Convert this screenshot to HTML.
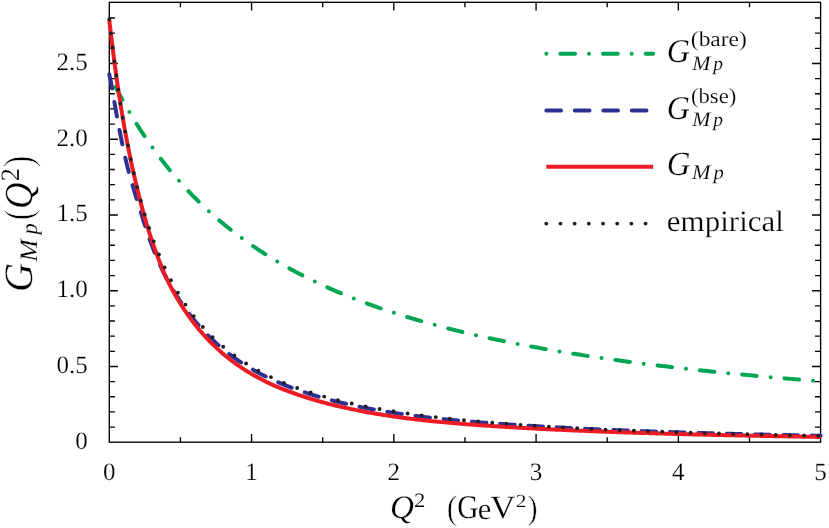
<!DOCTYPE html>
<html><head><meta charset="utf-8"><title>G_Mp</title>
<style>
html,body{margin:0;padding:0;background:#fff;}
svg{display:block;font-family:"Liberation Serif",serif;fill:#000;text-rendering:geometricPrecision;}
svg{will-change:transform;}
.it{font-style:italic;}
</style></head><body>
<svg width="829" height="528" viewBox="0 0 829 528">
<rect width="829" height="528" fill="#fff"/>
<g stroke="#000" stroke-width="1.35" fill="none" stroke-linecap="butt">
<rect x="109.3" y="2.3" width="711.30" height="439.90"/>
<path d="M180.43,442.2v-5.0 M180.43,2.3v5.0 M251.56,442.2v-8.2 M251.56,2.3v8.2 M322.69,442.2v-5.0 M322.69,2.3v5.0 M393.82,442.2v-8.2 M393.82,2.3v8.2 M464.95,442.2v-5.0 M464.95,2.3v5.0 M536.08,442.2v-8.2 M536.08,2.3v8.2 M607.21,442.2v-5.0 M607.21,2.3v5.0 M678.34,442.2v-8.2 M678.34,2.3v8.2 M749.47,442.2v-5.0 M749.47,2.3v5.0 M109.3,427.05h5.6 M820.6,427.05h-5.6 M109.3,411.90h5.6 M820.6,411.90h-5.6 M109.3,396.75h5.6 M820.6,396.75h-5.6 M109.3,381.60h5.6 M820.6,381.60h-5.6 M109.3,366.45h8.6 M820.6,366.45h-8.6 M109.3,351.30h5.6 M820.6,351.30h-5.6 M109.3,336.15h5.6 M820.6,336.15h-5.6 M109.3,321.00h5.6 M820.6,321.00h-5.6 M109.3,305.85h5.6 M820.6,305.85h-5.6 M109.3,290.70h8.6 M820.6,290.70h-8.6 M109.3,275.55h5.6 M820.6,275.55h-5.6 M109.3,260.40h5.6 M820.6,260.40h-5.6 M109.3,245.25h5.6 M820.6,245.25h-5.6 M109.3,230.10h5.6 M820.6,230.10h-5.6 M109.3,214.95h8.6 M820.6,214.95h-8.6 M109.3,199.80h5.6 M820.6,199.80h-5.6 M109.3,184.65h5.6 M820.6,184.65h-5.6 M109.3,169.50h5.6 M820.6,169.50h-5.6 M109.3,154.35h5.6 M820.6,154.35h-5.6 M109.3,139.20h8.6 M820.6,139.20h-8.6 M109.3,124.05h5.6 M820.6,124.05h-5.6 M109.3,108.90h5.6 M820.6,108.90h-5.6 M109.3,93.75h5.6 M820.6,93.75h-5.6 M109.3,78.60h5.6 M820.6,78.60h-5.6 M109.3,63.45h8.6 M820.6,63.45h-8.6 M109.3,48.30h5.6 M820.6,48.30h-5.6 M109.3,33.15h5.6 M820.6,33.15h-5.6 M109.3,18.00h5.6 M820.6,18.00h-5.6"/>
</g>
<g fill="none" stroke-linecap="round" stroke-linejoin="round">
<path d="M109.30,74.63 L109.30,74.63 L109.31,74.64 L109.31,74.65 L109.32,74.67 L109.34,74.70 L109.35,74.73 L109.37,74.77 L109.39,74.82 L109.42,74.87 L109.45,74.92 L109.48,74.99 L109.51,75.05 L109.55,75.13 L109.59,75.21 L109.63,75.29 L109.67,75.39 L109.72,75.48 L109.77,75.59 L109.83,75.70 L109.88,75.81 L109.94,75.93 L110.00,76.06 L110.07,76.19 L110.14,76.33 L110.21,76.48 L110.28,76.63 L110.36,76.78 L110.44,76.95 L110.52,77.11 L110.61,77.29 L110.70,77.47 L110.79,77.65 L110.89,77.84 L110.98,78.04 L111.08,78.24 L111.19,78.45 L111.29,78.66 L111.40,78.88 L111.51,79.10 L111.63,79.33 L111.75,79.57 L111.87,79.81 L111.99,80.06 L112.12,80.31 L112.25,80.57 L112.38,80.83 L112.52,81.10 L112.65,81.37 L112.80,81.65 L112.94,81.94 L113.09,82.23 L113.24,82.52 L113.39,82.82 L113.55,83.13 L113.70,83.44 L113.87,83.76 L114.03,84.08 L114.20,84.41 L114.37,84.74 L114.54,85.07 L114.72,85.42 L114.90,85.76 L115.08,86.12 L115.26,86.47 L115.45,86.84 L115.64,87.20 L115.84,87.58 L116.03,87.95 L116.23,88.34 L116.43,88.72 L116.64,89.11 L116.85,89.51 L117.06,89.91 L117.27,90.32 L117.49,90.73 L117.71,91.14 L117.93,91.56 L118.16,91.99 L118.39,92.42 L118.62,92.85 L118.85,93.29 L119.09,93.73 L119.33,94.18 L119.57,94.63 L119.82,95.09 L120.07,95.55 L120.32,96.01 L120.57,96.48 L120.83,96.95 L121.09,97.43 L121.36,97.91 L121.62,98.40 L121.89,98.89 L122.16,99.38 L122.44,99.88 L122.72,100.38 L123.00,100.89 L123.28,101.40 L123.57,101.91 L123.86,102.43 L124.15,102.95 L124.45,103.47 L124.74,104.00 L125.05,104.53 L125.35,105.07 L125.66,105.61 L125.97,106.15 L126.28,106.70 L126.60,107.25 L126.92,107.81 L127.24,108.36 L127.56,108.92 L127.89,109.49 L128.22,110.06 L128.55,110.63 L128.89,111.20 L129.23,111.78 L129.57,112.36 L129.92,112.94 L130.26,113.53 L130.61,114.12 L130.97,114.71 L131.32,115.31 L131.68,115.91 L132.05,116.51 L132.41,117.11 L132.78,117.72 L133.15,118.33 L133.53,118.94 L133.90,119.56 L134.28,120.18 L134.67,120.80 L135.05,121.42 L135.44,122.05 L135.83,122.68 L136.23,123.31 L136.62,123.94 L137.02,124.58 L137.43,125.22 L137.83,125.86 L138.24,126.50 L138.65,127.15 L139.07,127.80 L139.49,128.45 L139.91,129.10 L140.33,129.75 L140.76,130.41 L141.19,131.07 L141.62,131.73 L142.06,132.39 L142.49,133.06 L142.93,133.72 L143.38,134.39 L143.83,135.06 L144.28,135.73 L144.73,136.41 L145.18,137.08 L145.64,137.76 L146.10,138.44 L146.57,139.12 L147.04,139.80 L147.51,140.49 L147.98,141.17 L148.45,141.86 L148.93,142.55 L149.42,143.24 L149.90,143.93 L150.39,144.62 L150.88,145.32 L151.37,146.01 L151.87,146.71 L152.37,147.40 L152.87,148.10 L153.38,148.80 L153.88,149.50 L154.39,150.21 L154.91,150.91 L155.43,151.61 L155.94,152.32 L156.47,153.02 L156.99,153.73 L157.52,154.44 L158.05,155.15 L158.59,155.86 L159.12,156.57 L159.66,157.28 L160.21,157.99 L160.75,158.70 L161.30,159.42 L161.85,160.13 L162.41,160.85 L162.97,161.56 L163.53,162.28 L164.09,162.99 L164.66,163.71 L165.23,164.43 L165.80,165.15 L166.37,165.86 L166.95,166.58 L167.53,167.30 L168.12,168.02 L168.70,168.74 L169.29,169.46 L169.88,170.18 L170.48,170.90 L171.08,171.62 L171.68,172.34 L172.28,173.06 L172.89,173.78 L173.50,174.50 L174.11,175.22 L174.73,175.95 L175.35,176.67 L175.97,177.39 L176.59,178.11 L177.22,178.83 L177.85,179.55 L178.48,180.27 L179.12,180.99 L179.76,181.71 L180.40,182.43 L181.05,183.15 L181.69,183.87 L182.35,184.59 L183.00,185.31 L183.66,186.03 L184.32,186.75 L184.98,187.46 L185.64,188.18 L186.31,188.90 L186.98,189.62 L187.66,190.33 L188.33,191.05 L189.01,191.76 L189.70,192.48 L190.38,193.19 L191.07,193.91 L191.76,194.62 L192.46,195.33 L193.15,196.05 L193.85,196.76 L194.56,197.47 L195.26,198.18 L195.97,198.89 L196.68,199.60 L197.40,200.30 L198.12,201.01 L198.84,201.72 L199.56,202.42 L200.29,203.13 L201.02,203.83 L201.75,204.54 L202.48,205.24 L203.22,205.94 L203.96,206.64 L204.71,207.34 L205.45,208.04 L206.20,208.74 L206.96,209.44 L207.71,210.13 L208.47,210.83 L209.23,211.52 L210.00,212.22 L210.76,212.91 L211.53,213.60 L212.31,214.29 L213.08,214.98 L213.86,215.67 L214.64,216.35 L215.43,217.04 L216.21,217.72 L217.01,218.41 L217.80,219.09 L218.59,219.77 L219.39,220.45 L220.20,221.13 L221.00,221.81 L221.81,222.49 L222.62,223.16 L223.43,223.84 L224.25,224.51 L225.07,225.18 L225.89,225.85 L226.72,226.52 L227.55,227.19 L228.38,227.85 L229.21,228.52 L230.05,229.18 L230.89,229.85 L231.73,230.51 L232.58,231.17 L233.43,231.83 L234.28,232.48 L235.13,233.14 L235.99,233.79 L236.85,234.45 L237.71,235.10 L238.58,235.75 L239.45,236.40 L240.32,237.05 L241.20,237.69 L242.07,238.34 L242.95,238.98 L243.84,239.62 L244.72,240.26 L245.61,240.90 L246.51,241.54 L247.40,242.17 L248.30,242.81 L249.20,243.44 L250.11,244.07 L251.01,244.70 L251.92,245.33 L252.83,245.96 L253.75,246.58 L254.67,247.20 L255.59,247.83 L256.52,248.45 L257.44,249.07 L258.37,249.68 L259.31,250.30 L260.24,250.91 L261.18,251.53 L262.12,252.14 L263.07,252.75 L264.02,253.36 L264.97,253.96 L265.92,254.57 L266.88,255.17 L267.84,255.77 L268.80,256.37 L269.76,256.97 L270.73,257.57 L271.70,258.16 L272.68,258.76 L273.65,259.35 L274.63,259.94 L275.62,260.53 L276.60,261.12 L277.59,261.70 L278.58,262.28 L279.57,262.87 L280.57,263.45 L281.57,264.03 L282.58,264.60 L283.58,265.18 L284.59,265.75 L285.60,266.32 L286.62,266.90 L287.63,267.46 L288.65,268.03 L289.68,268.60 L290.70,269.16 L291.73,269.72 L292.77,270.28 L293.80,270.84 L294.84,271.40 L295.88,271.96 L296.92,272.51 L297.97,273.06 L299.02,273.61 L300.07,274.16 L301.13,274.71 L302.19,275.25 L303.25,275.80 L304.31,276.34 L305.38,276.88 L306.45,277.42 L307.52,277.96 L308.60,278.49 L309.68,279.03 L310.76,279.56 L311.84,280.09 L312.93,280.62 L314.02,281.14 L315.11,281.67 L316.21,282.19 L317.31,282.72 L318.41,283.24 L319.52,283.75 L320.62,284.27 L321.73,284.79 L322.85,285.30 L323.96,285.81 L325.08,286.32 L326.21,286.83 L327.33,287.34 L328.46,287.84 L329.59,288.35 L330.73,288.85 L331.86,289.35 L333.00,289.85 L334.15,290.35 L335.29,290.84 L336.44,291.34 L337.59,291.83 L338.75,292.32 L339.90,292.81 L341.06,293.29 L342.23,293.78 L343.39,294.26 L344.56,294.75 L345.73,295.23 L346.91,295.70 L348.09,296.18 L349.27,296.66 L350.45,297.13 L351.64,297.60 L352.83,298.07 L354.02,298.54 L355.21,299.01 L356.41,299.48 L357.61,299.94 L358.82,300.40 L360.02,300.87 L361.23,301.32 L362.45,301.78 L363.66,302.24 L364.88,302.69 L366.10,303.15 L367.33,303.60 L368.55,304.05 L369.78,304.50 L371.02,304.94 L372.25,305.39 L373.49,305.83 L374.73,306.27 L375.98,306.71 L377.22,307.15 L378.48,307.59 L379.73,308.02 L380.99,308.46 L382.24,308.89 L383.51,309.32 L384.77,309.75 L386.04,310.18 L387.31,310.61 L388.58,311.03 L389.86,311.45 L391.14,311.88 L392.42,312.30 L393.71,312.71 L395.00,313.13 L396.29,313.55 L397.58,313.96 L398.88,314.37 L400.18,314.78 L401.48,315.19 L402.79,315.60 L404.10,316.01 L405.41,316.41 L406.72,316.82 L408.04,317.22 L409.36,317.62 L410.68,318.02 L412.01,318.42 L413.34,318.81 L414.67,319.21 L416.01,319.60 L417.34,319.99 L418.69,320.38 L420.03,320.77 L421.38,321.16 L422.73,321.54 L424.08,321.93 L425.43,322.31 L426.79,322.69 L428.15,323.07 L429.52,323.45 L430.88,323.83 L432.25,324.21 L433.63,324.58 L435.00,324.95 L436.38,325.32 L437.76,325.69 L439.15,326.06 L440.53,326.43 L441.92,326.80 L443.32,327.16 L444.71,327.53 L446.11,327.89 L447.51,328.25 L448.92,328.61 L450.33,328.96 L451.74,329.32 L453.15,329.68 L454.57,330.03 L455.99,330.38 L457.41,330.73 L458.83,331.08 L460.26,331.43 L461.69,331.78 L463.13,332.12 L464.56,332.47 L466.00,332.81 L467.45,333.15 L468.89,333.49 L470.34,333.83 L471.79,334.17 L473.25,334.51 L474.70,334.84 L476.16,335.18 L477.63,335.51 L479.09,335.84 L480.56,336.17 L482.03,336.50 L483.51,336.83 L484.99,337.15 L486.47,337.48 L487.95,337.80 L489.44,338.13 L490.93,338.45 L492.42,338.77 L493.91,339.09 L495.41,339.40 L496.91,339.72 L498.42,340.04 L499.92,340.35 L501.43,340.66 L502.95,340.97 L504.46,341.29 L505.98,341.59 L507.50,341.90 L509.02,342.21 L510.55,342.51 L512.08,342.82 L513.61,343.12 L515.15,343.42 L516.69,343.73 L518.23,344.03 L519.78,344.32 L521.32,344.62 L522.87,344.92 L524.43,345.21 L525.98,345.51 L527.54,345.80 L529.10,346.09 L530.67,346.38 L532.24,346.67 L533.81,346.96 L535.38,347.25 L536.96,347.53 L538.54,347.82 L540.12,348.10 L541.71,348.39 L543.29,348.67 L544.89,348.95 L546.48,349.23 L548.08,349.51 L549.68,349.78 L551.28,350.06 L552.88,350.33 L554.49,350.61 L556.10,350.88 L557.72,351.15 L559.34,351.42 L560.96,351.69 L562.58,351.96 L564.21,352.23 L565.84,352.50 L567.47,352.76 L569.10,353.03 L570.74,353.29 L572.38,353.56 L574.02,353.82 L575.67,354.08 L577.32,354.34 L578.97,354.60 L580.63,354.85 L582.29,355.11 L583.95,355.37 L585.61,355.62 L587.28,355.87 L588.95,356.13 L590.62,356.38 L592.30,356.63 L593.97,356.88 L595.66,357.13 L597.34,357.38 L599.03,357.62 L600.72,357.87 L602.41,358.11 L604.11,358.36 L605.81,358.60 L607.51,358.84 L609.21,359.09 L610.92,359.33 L612.63,359.57 L614.34,359.80 L616.06,360.04 L617.78,360.28 L619.50,360.51 L621.23,360.75 L622.95,360.98 L624.69,361.22 L626.42,361.45 L628.16,361.68 L629.90,361.91 L631.64,362.14 L633.38,362.37 L635.13,362.60 L636.88,362.82 L638.64,363.05 L640.40,363.28 L642.16,363.50 L643.92,363.72 L645.68,363.95 L647.45,364.17 L649.22,364.39 L651.00,364.61 L652.78,364.83 L654.56,365.05 L656.34,365.27 L658.13,365.48 L659.92,365.70 L661.71,365.92 L663.50,366.13 L665.30,366.34 L667.10,366.56 L668.91,366.77 L670.71,366.98 L672.52,367.19 L674.33,367.40 L676.15,367.61 L677.97,367.82 L679.79,368.03 L681.61,368.23 L683.44,368.44 L685.27,368.64 L687.10,368.85 L688.94,369.05 L690.78,369.26 L692.62,369.46 L694.46,369.66 L696.31,369.86 L698.16,370.06 L700.01,370.26 L701.87,370.46 L703.73,370.66 L705.59,370.85 L707.46,371.05 L709.32,371.25 L711.19,371.44 L713.07,371.64 L714.94,371.83 L716.82,372.02 L718.71,372.21 L720.59,372.41 L722.48,372.60 L724.37,372.79 L726.26,372.98 L728.16,373.17 L730.06,373.35 L731.96,373.54 L733.87,373.73 L735.78,373.91 L737.69,374.10 L739.60,374.29 L741.52,374.47 L743.44,374.65 L745.36,374.84 L747.29,375.02 L749.22,375.20 L751.15,375.38 L753.09,375.56 L755.02,375.74 L756.96,375.92 L758.91,376.10 L760.85,376.28 L762.80,376.46 L764.76,376.63 L766.71,376.81 L768.67,376.98 L770.63,377.16 L772.59,377.33 L774.56,377.51 L776.53,377.68 L778.50,377.85 L780.48,378.03 L782.46,378.20 L784.44,378.37 L786.42,378.54 L788.41,378.71 L790.40,378.88 L792.39,379.05 L794.39,379.21 L796.39,379.38 L798.39,379.55 L800.39,379.72 L802.40,379.88 L804.41,380.05 L806.42,380.21 L808.44,380.38 L810.46,380.54 L812.48,380.70 L814.51,380.87 L816.54,381.03 L818.57,381.19 L820.60,381.35" stroke="#00a651" stroke-width="4.0" stroke-dasharray="0 13.95 14.65 13.95" stroke-dashoffset="0.2"/>
<path d="M109.30,74.16 L109.30,74.17 L109.31,74.19 L109.31,74.23 L109.32,74.28 L109.34,74.34 L109.35,74.42 L109.37,74.51 L109.39,74.62 L109.42,74.74 L109.45,74.88 L109.48,75.03 L109.51,75.19 L109.55,75.37 L109.59,75.56 L109.63,75.76 L109.67,75.98 L109.72,76.21 L109.77,76.45 L109.83,76.71 L109.88,76.98 L109.94,77.26 L110.00,77.56 L110.07,77.87 L110.14,78.20 L110.21,78.53 L110.28,78.89 L110.36,79.26 L110.44,79.64 L110.52,80.05 L110.61,80.47 L110.70,80.91 L110.79,81.37 L110.89,81.85 L110.98,82.36 L111.08,82.89 L111.19,83.45 L111.29,84.03 L111.40,84.65 L111.51,85.31 L111.63,85.98 L111.75,86.68 L111.87,87.39 L111.99,88.12 L112.12,88.86 L112.25,89.63 L112.38,90.40 L112.52,91.20 L112.65,92.01 L112.80,92.84 L112.94,93.68 L113.09,94.54 L113.24,95.41 L113.39,96.30 L113.55,97.21 L113.70,98.13 L113.87,99.07 L114.03,100.03 L114.20,100.99 L114.37,101.98 L114.54,102.97 L114.72,103.99 L114.90,105.01 L115.08,106.05 L115.26,107.11 L115.45,108.17 L115.64,109.26 L115.84,110.35 L116.03,111.46 L116.23,112.57 L116.43,113.71 L116.64,114.85 L116.85,116.00 L117.06,117.17 L117.27,118.34 L117.49,119.52 L117.71,120.72 L117.93,121.92 L118.16,123.13 L118.39,124.35 L118.62,125.58 L118.85,126.81 L119.09,128.05 L119.33,129.30 L119.57,130.55 L119.82,131.80 L120.07,133.06 L120.32,134.32 L120.57,135.58 L120.83,136.85 L121.09,138.12 L121.36,139.41 L121.62,140.70 L121.89,142.01 L122.16,143.32 L122.44,144.64 L122.72,145.97 L123.00,147.30 L123.28,148.63 L123.57,149.98 L123.86,151.32 L124.15,152.66 L124.45,154.01 L124.74,155.36 L125.05,156.70 L125.35,158.04 L125.66,159.38 L125.97,160.71 L126.28,162.03 L126.60,163.35 L126.92,164.65 L127.24,165.95 L127.56,167.23 L127.89,168.50 L128.22,169.76 L128.55,171.02 L128.89,172.27 L129.23,173.51 L129.57,174.75 L129.92,175.98 L130.26,177.21 L130.61,178.45 L130.97,179.68 L131.32,180.92 L131.68,182.17 L132.05,183.42 L132.41,184.68 L132.78,185.95 L133.15,187.23 L133.53,188.53 L133.90,189.84 L134.28,191.13 L134.67,192.42 L135.05,193.70 L135.44,194.99 L135.83,196.26 L136.23,197.54 L136.62,198.81 L137.02,200.09 L137.43,201.37 L137.83,202.65 L138.24,203.94 L138.65,205.23 L139.07,206.53 L139.49,207.84 L139.91,209.17 L140.33,210.50 L140.76,211.86 L141.19,213.22 L141.62,214.61 L142.06,216.02 L142.49,217.44 L142.93,218.86 L143.38,220.28 L143.83,221.70 L144.28,223.12 L144.73,224.53 L145.18,225.95 L145.64,227.36 L146.10,228.77 L146.57,230.18 L147.04,231.58 L147.51,232.98 L147.98,234.37 L148.45,235.76 L148.93,237.14 L149.42,238.51 L149.90,239.88 L150.39,241.23 L150.88,242.58 L151.37,243.91 L151.87,245.24 L152.37,246.55 L152.87,247.86 L153.38,249.16 L153.88,250.45 L154.39,251.74 L154.91,253.02 L155.43,254.29 L155.94,255.55 L156.47,256.80 L156.99,258.05 L157.52,259.29 L158.05,260.53 L158.59,261.75 L159.12,262.97 L159.66,264.18 L160.21,265.38 L160.75,266.57 L161.30,267.76 L161.85,268.94 L162.41,270.11 L162.97,271.27 L163.53,272.43 L164.09,273.57 L164.66,274.71 L165.23,275.84 L165.80,276.96 L166.37,278.08 L166.95,279.18 L167.53,280.28 L168.12,281.36 L168.70,282.44 L169.29,283.51 L169.88,284.56 L170.48,285.61 L171.08,286.66 L171.68,287.69 L172.28,288.71 L172.89,289.73 L173.50,290.75 L174.11,291.75 L174.73,292.75 L175.35,293.74 L175.97,294.73 L176.59,295.71 L177.22,296.69 L177.85,297.67 L178.48,298.64 L179.12,299.60 L179.76,300.56 L180.40,301.52 L181.05,302.48 L181.69,303.43 L182.35,304.37 L183.00,305.31 L183.66,306.24 L184.32,307.17 L184.98,308.09 L185.64,309.00 L186.31,309.91 L186.98,310.81 L187.66,311.71 L188.33,312.61 L189.01,313.49 L189.70,314.38 L190.38,315.26 L191.07,316.13 L191.76,317.01 L192.46,317.87 L193.15,318.74 L193.85,319.60 L194.56,320.46 L195.26,321.31 L195.97,322.16 L196.68,323.00 L197.40,323.84 L198.12,324.67 L198.84,325.50 L199.56,326.33 L200.29,327.14 L201.02,327.96 L201.75,328.76 L202.48,329.57 L203.22,330.37 L203.96,331.16 L204.71,331.95 L205.45,332.74 L206.20,333.52 L206.96,334.29 L207.71,335.06 L208.47,335.83 L209.23,336.60 L210.00,337.35 L210.76,338.11 L211.53,338.85 L212.31,339.60 L213.08,340.33 L213.86,341.06 L214.64,341.79 L215.43,342.51 L216.21,343.23 L217.01,343.94 L217.80,344.64 L218.59,345.34 L219.39,346.04 L220.20,346.73 L221.00,347.41 L221.81,348.09 L222.62,348.77 L223.43,349.44 L224.25,350.11 L225.07,350.77 L225.89,351.42 L226.72,352.08 L227.55,352.72 L228.38,353.37 L229.21,354.00 L230.05,354.64 L230.89,355.26 L231.73,355.89 L232.58,356.51 L233.43,357.12 L234.28,357.73 L235.13,358.34 L235.99,358.94 L236.85,359.54 L237.71,360.13 L238.58,360.72 L239.45,361.31 L240.32,361.89 L241.20,362.46 L242.07,363.04 L242.95,363.61 L243.84,364.17 L244.72,364.73 L245.61,365.29 L246.51,365.84 L247.40,366.39 L248.30,366.93 L249.20,367.47 L250.11,368.01 L251.01,368.54 L251.92,369.07 L252.83,369.60 L253.75,370.12 L254.67,370.64 L255.59,371.15 L256.52,371.66 L257.44,372.17 L258.37,372.67 L259.31,373.17 L260.24,373.67 L261.18,374.16 L262.12,374.65 L263.07,375.14 L264.02,375.62 L264.97,376.10 L265.92,376.57 L266.88,377.05 L267.84,377.51 L268.80,377.98 L269.76,378.44 L270.73,378.90 L271.70,379.35 L272.68,379.80 L273.65,380.25 L274.63,380.69 L275.62,381.13 L276.60,381.57 L277.59,382.01 L278.58,382.44 L279.57,382.86 L280.57,383.29 L281.57,383.71 L282.58,384.13 L283.58,384.54 L284.59,384.96 L285.60,385.37 L286.62,385.77 L287.63,386.17 L288.65,386.57 L289.68,386.97 L290.70,387.37 L291.73,387.76 L292.77,388.15 L293.80,388.53 L294.84,388.91 L295.88,389.29 L296.92,389.67 L297.97,390.05 L299.02,390.42 L300.07,390.79 L301.13,391.15 L302.19,391.51 L303.25,391.88 L304.31,392.23 L305.38,392.59 L306.45,392.94 L307.52,393.29 L308.60,393.64 L309.68,393.98 L310.76,394.33 L311.84,394.66 L312.93,395.00 L314.02,395.34 L315.11,395.67 L316.21,396.00 L317.31,396.33 L318.41,396.65 L319.52,396.97 L320.62,397.29 L321.73,397.61 L322.85,397.93 L323.96,398.24 L325.08,398.55 L326.21,398.86 L327.33,399.16 L328.46,399.47 L329.59,399.77 L330.73,400.07 L331.86,400.36 L333.00,400.66 L334.15,400.95 L335.29,401.24 L336.44,401.53 L337.59,401.81 L338.75,402.10 L339.90,402.38 L341.06,402.66 L342.23,402.94 L343.39,403.21 L344.56,403.48 L345.73,403.76 L346.91,404.02 L348.09,404.29 L349.27,404.56 L350.45,404.82 L351.64,405.08 L352.83,405.34 L354.02,405.60 L355.21,405.85 L356.41,406.10 L357.61,406.36 L358.82,406.60 L360.02,406.85 L361.23,407.10 L362.45,407.34 L363.66,407.58 L364.88,407.82 L366.10,408.06 L367.33,408.30 L368.55,408.53 L369.78,408.76 L371.02,408.99 L372.25,409.22 L373.49,409.45 L374.73,409.67 L375.98,409.90 L377.22,410.12 L378.48,410.34 L379.73,410.56 L380.99,410.77 L382.24,410.99 L383.51,411.20 L384.77,411.41 L386.04,411.62 L387.31,411.83 L388.58,412.03 L389.86,412.24 L391.14,412.44 L392.42,412.64 L393.71,412.84 L395.00,413.04 L396.29,413.24 L397.58,413.43 L398.88,413.62 L400.18,413.81 L401.48,414.00 L402.79,414.19 L404.10,414.37 L405.41,414.56 L406.72,414.74 L408.04,414.92 L409.36,415.10 L410.68,415.28 L412.01,415.45 L413.34,415.63 L414.67,415.80 L416.01,415.97 L417.34,416.14 L418.69,416.31 L420.03,416.47 L421.38,416.64 L422.73,416.80 L424.08,416.96 L425.43,417.12 L426.79,417.28 L428.15,417.44 L429.52,417.60 L430.88,417.75 L432.25,417.91 L433.63,418.06 L435.00,418.21 L436.38,418.36 L437.76,418.51 L439.15,418.65 L440.53,418.80 L441.92,418.94 L443.32,419.09 L444.71,419.23 L446.11,419.37 L447.51,419.51 L448.92,419.64 L450.33,419.78 L451.74,419.92 L453.15,420.05 L454.57,420.19 L455.99,420.32 L457.41,420.45 L458.83,420.58 L460.26,420.71 L461.69,420.84 L463.13,420.96 L464.56,421.09 L466.00,421.21 L467.45,421.34 L468.89,421.46 L470.34,421.58 L471.79,421.70 L473.25,421.82 L474.70,421.94 L476.16,422.06 L477.63,422.18 L479.09,422.30 L480.56,422.41 L482.03,422.53 L483.51,422.64 L484.99,422.75 L486.47,422.87 L487.95,422.98 L489.44,423.09 L490.93,423.20 L492.42,423.31 L493.91,423.42 L495.41,423.52 L496.91,423.63 L498.42,423.74 L499.92,423.84 L501.43,423.95 L502.95,424.05 L504.46,424.16 L505.98,424.26 L507.50,424.37 L509.02,424.47 L510.55,424.57 L512.08,424.67 L513.61,424.77 L515.15,424.87 L516.69,424.97 L518.23,425.07 L519.78,425.17 L521.32,425.27 L522.87,425.37 L524.43,425.47 L525.98,425.56 L527.54,425.66 L529.10,425.76 L530.67,425.86 L532.24,425.95 L533.81,426.05 L535.38,426.14 L536.96,426.24 L538.54,426.34 L540.12,426.43 L541.71,426.52 L543.29,426.62 L544.89,426.71 L546.48,426.80 L548.08,426.89 L549.68,426.98 L551.28,427.07 L552.88,427.16 L554.49,427.25 L556.10,427.34 L557.72,427.42 L559.34,427.51 L560.96,427.60 L562.58,427.68 L564.21,427.77 L565.84,427.85 L567.47,427.94 L569.10,428.02 L570.74,428.10 L572.38,428.18 L574.02,428.26 L575.67,428.34 L577.32,428.43 L578.97,428.51 L580.63,428.58 L582.29,428.66 L583.95,428.74 L585.61,428.82 L587.28,428.90 L588.95,428.97 L590.62,429.05 L592.30,429.12 L593.97,429.20 L595.66,429.27 L597.34,429.35 L599.03,429.42 L600.72,429.50 L602.41,429.57 L604.11,429.64 L605.81,429.71 L607.51,429.78 L609.21,429.86 L610.92,429.93 L612.63,430.00 L614.34,430.07 L616.06,430.14 L617.78,430.20 L619.50,430.27 L621.23,430.34 L622.95,430.41 L624.69,430.48 L626.42,430.54 L628.16,430.61 L629.90,430.68 L631.64,430.74 L633.38,430.81 L635.13,430.87 L636.88,430.94 L638.64,431.00 L640.40,431.07 L642.16,431.13 L643.92,431.19 L645.68,431.26 L647.45,431.32 L649.22,431.38 L651.00,431.44 L652.78,431.50 L654.56,431.57 L656.34,431.63 L658.13,431.69 L659.92,431.75 L661.71,431.81 L663.50,431.87 L665.30,431.93 L667.10,431.99 L668.91,432.05 L670.71,432.11 L672.52,432.16 L674.33,432.22 L676.15,432.28 L677.97,432.34 L679.79,432.40 L681.61,432.45 L683.44,432.51 L685.27,432.57 L687.10,432.62 L688.94,432.68 L690.78,432.73 L692.62,432.79 L694.46,432.84 L696.31,432.90 L698.16,432.95 L700.01,433.01 L701.87,433.06 L703.73,433.11 L705.59,433.16 L707.46,433.22 L709.32,433.27 L711.19,433.32 L713.07,433.37 L714.94,433.42 L716.82,433.47 L718.71,433.52 L720.59,433.57 L722.48,433.62 L724.37,433.67 L726.26,433.72 L728.16,433.77 L730.06,433.82 L731.96,433.87 L733.87,433.91 L735.78,433.96 L737.69,434.01 L739.60,434.06 L741.52,434.10 L743.44,434.15 L745.36,434.19 L747.29,434.24 L749.22,434.29 L751.15,434.33 L753.09,434.38 L755.02,434.42 L756.96,434.46 L758.91,434.51 L760.85,434.55 L762.80,434.60 L764.76,434.64 L766.71,434.68 L768.67,434.72 L770.63,434.77 L772.59,434.81 L774.56,434.85 L776.53,434.89 L778.50,434.93 L780.48,434.97 L782.46,435.02 L784.44,435.06 L786.42,435.10 L788.41,435.14 L790.40,435.18 L792.39,435.22 L794.39,435.26 L796.39,435.29 L798.39,435.33 L800.39,435.37 L802.40,435.41 L804.41,435.45 L806.42,435.49 L808.44,435.52 L810.46,435.56 L812.48,435.60 L814.51,435.64 L816.54,435.67 L818.57,435.71 L820.60,435.74" stroke="#2e3192" stroke-width="4.0" stroke-dasharray="14.6 13.75"/>
<path d="M109.30,20.35 L109.30,20.36 L109.31,20.40 L109.31,20.46 L109.32,20.54 L109.34,20.65 L109.35,20.79 L109.37,20.94 L109.39,21.13 L109.42,21.33 L109.45,21.56 L109.48,21.81 L109.51,22.09 L109.55,22.38 L109.59,22.70 L109.63,23.05 L109.67,23.41 L109.72,23.80 L109.77,24.21 L109.83,24.65 L109.88,25.10 L109.94,25.58 L110.00,26.09 L110.07,26.61 L110.14,27.16 L110.21,27.73 L110.28,28.33 L110.36,28.95 L110.44,29.60 L110.52,30.27 L110.61,30.98 L110.70,31.71 L110.79,32.47 L110.89,33.27 L110.98,34.10 L111.08,34.97 L111.19,35.86 L111.29,36.76 L111.40,37.69 L111.51,38.64 L111.63,39.62 L111.75,40.61 L111.87,41.62 L111.99,42.65 L112.12,43.70 L112.25,44.77 L112.38,45.86 L112.52,46.97 L112.65,48.10 L112.80,49.24 L112.94,50.41 L113.09,51.59 L113.24,52.79 L113.39,54.00 L113.55,55.23 L113.70,56.48 L113.87,57.74 L114.03,59.02 L114.20,60.32 L114.37,61.63 L114.54,62.95 L114.72,64.29 L114.90,65.64 L115.08,67.01 L115.26,68.39 L115.45,69.78 L115.64,71.18 L115.84,72.60 L116.03,74.03 L116.23,75.47 L116.43,76.92 L116.64,78.39 L116.85,79.86 L117.06,81.35 L117.27,82.84 L117.49,84.35 L117.71,85.86 L117.93,87.38 L118.16,88.91 L118.39,90.46 L118.62,92.00 L118.85,93.56 L119.09,95.12 L119.33,96.70 L119.57,98.27 L119.82,99.86 L120.07,101.45 L120.32,103.05 L120.57,104.65 L120.83,106.26 L121.09,107.87 L121.36,109.49 L121.62,111.12 L121.89,112.74 L122.16,114.38 L122.44,116.01 L122.72,117.65 L123.00,119.29 L123.28,120.94 L123.57,122.59 L123.86,124.24 L124.15,125.90 L124.45,127.56 L124.74,129.22 L125.05,130.88 L125.35,132.55 L125.66,134.22 L125.97,135.90 L126.28,137.57 L126.60,139.25 L126.92,140.93 L127.24,142.61 L127.56,144.29 L127.89,145.97 L128.22,147.65 L128.55,149.34 L128.89,151.02 L129.23,152.70 L129.57,154.39 L129.92,156.07 L130.26,157.75 L130.61,159.43 L130.97,161.11 L131.32,162.79 L131.68,164.46 L132.05,166.14 L132.41,167.81 L132.78,169.48 L133.15,171.14 L133.53,172.81 L133.90,174.47 L134.28,176.14 L134.67,177.80 L135.05,179.47 L135.44,181.14 L135.83,182.81 L136.23,184.48 L136.62,186.16 L137.02,187.83 L137.43,189.50 L137.83,191.17 L138.24,192.84 L138.65,194.50 L139.07,196.17 L139.49,197.83 L139.91,199.49 L140.33,201.15 L140.76,202.81 L141.19,204.46 L141.62,206.11 L142.06,207.75 L142.49,209.38 L142.93,211.02 L143.38,212.64 L143.83,214.26 L144.28,215.87 L144.73,217.48 L145.18,219.07 L145.64,220.66 L146.10,222.24 L146.57,223.81 L147.04,225.37 L147.51,226.92 L147.98,228.46 L148.45,229.98 L148.93,231.51 L149.42,233.02 L149.90,234.52 L150.39,236.02 L150.88,237.51 L151.37,238.99 L151.87,240.47 L152.37,241.94 L152.87,243.40 L153.38,244.85 L153.88,246.30 L154.39,247.74 L154.91,249.18 L155.43,250.61 L155.94,252.03 L156.47,253.45 L156.99,254.86 L157.52,256.27 L158.05,257.69 L158.59,259.10 L159.12,260.51 L159.66,261.92 L160.21,263.32 L160.75,264.72 L161.30,266.12 L161.85,267.50 L162.41,268.87 L162.97,270.23 L163.53,271.58 L164.09,272.91 L164.66,274.23 L165.23,275.53 L165.80,276.80 L166.37,278.06 L166.95,279.29 L167.53,280.49 L168.12,281.67 L168.70,282.84 L169.29,284.00 L169.88,285.16 L170.48,286.31 L171.08,287.44 L171.68,288.57 L172.28,289.70 L172.89,290.81 L173.50,291.92 L174.11,293.02 L174.73,294.11 L175.35,295.20 L175.97,296.28 L176.59,297.35 L177.22,298.41 L177.85,299.47 L178.48,300.52 L179.12,301.57 L179.76,302.61 L180.40,303.65 L181.05,304.68 L181.69,305.70 L182.35,306.72 L183.00,307.73 L183.66,308.74 L184.32,309.74 L184.98,310.73 L185.64,311.72 L186.31,312.70 L186.98,313.67 L187.66,314.64 L188.33,315.59 L189.01,316.55 L189.70,317.49 L190.38,318.43 L191.07,319.37 L191.76,320.29 L192.46,321.21 L193.15,322.13 L193.85,323.04 L194.56,323.94 L195.26,324.83 L195.97,325.72 L196.68,326.61 L197.40,327.48 L198.12,328.35 L198.84,329.22 L199.56,330.08 L200.29,330.93 L201.02,331.78 L201.75,332.62 L202.48,333.46 L203.22,334.29 L203.96,335.12 L204.71,335.94 L205.45,336.76 L206.20,337.57 L206.96,338.38 L207.71,339.18 L208.47,339.98 L209.23,340.77 L210.00,341.56 L210.76,342.34 L211.53,343.12 L212.31,343.89 L213.08,344.65 L213.86,345.42 L214.64,346.17 L215.43,346.92 L216.21,347.66 L217.01,348.40 L217.80,349.14 L218.59,349.87 L219.39,350.59 L220.20,351.30 L221.00,352.02 L221.81,352.72 L222.62,353.42 L223.43,354.12 L224.25,354.81 L225.07,355.49 L225.89,356.17 L226.72,356.84 L227.55,357.50 L228.38,358.16 L229.21,358.82 L230.05,359.47 L230.89,360.11 L231.73,360.75 L232.58,361.38 L233.43,362.01 L234.28,362.63 L235.13,363.25 L235.99,363.86 L236.85,364.47 L237.71,365.08 L238.58,365.68 L239.45,366.28 L240.32,366.87 L241.20,367.46 L242.07,368.04 L242.95,368.62 L243.84,369.19 L244.72,369.76 L245.61,370.33 L246.51,370.89 L247.40,371.45 L248.30,372.00 L249.20,372.55 L250.11,373.10 L251.01,373.64 L251.92,374.18 L252.83,374.71 L253.75,375.24 L254.67,375.76 L255.59,376.28 L256.52,376.80 L257.44,377.32 L258.37,377.83 L259.31,378.33 L260.24,378.83 L261.18,379.33 L262.12,379.82 L263.07,380.30 L264.02,380.78 L264.97,381.25 L265.92,381.72 L266.88,382.19 L267.84,382.65 L268.80,383.10 L269.76,383.55 L270.73,384.00 L271.70,384.44 L272.68,384.87 L273.65,385.31 L274.63,385.74 L275.62,386.16 L276.60,386.58 L277.59,387.00 L278.58,387.41 L279.57,387.82 L280.57,388.23 L281.57,388.63 L282.58,389.03 L283.58,389.43 L284.59,389.82 L285.60,390.21 L286.62,390.60 L287.63,390.98 L288.65,391.37 L289.68,391.75 L290.70,392.13 L291.73,392.50 L292.77,392.88 L293.80,393.25 L294.84,393.62 L295.88,393.98 L296.92,394.35 L297.97,394.71 L299.02,395.07 L300.07,395.43 L301.13,395.78 L302.19,396.13 L303.25,396.48 L304.31,396.82 L305.38,397.17 L306.45,397.51 L307.52,397.84 L308.60,398.18 L309.68,398.51 L310.76,398.84 L311.84,399.17 L312.93,399.49 L314.02,399.81 L315.11,400.13 L316.21,400.45 L317.31,400.77 L318.41,401.08 L319.52,401.39 L320.62,401.70 L321.73,402.00 L322.85,402.30 L323.96,402.61 L325.08,402.90 L326.21,403.20 L327.33,403.49 L328.46,403.78 L329.59,404.07 L330.73,404.36 L331.86,404.64 L333.00,404.93 L334.15,405.21 L335.29,405.48 L336.44,405.76 L337.59,406.03 L338.75,406.30 L339.90,406.57 L341.06,406.84 L342.23,407.11 L343.39,407.37 L344.56,407.63 L345.73,407.89 L346.91,408.15 L348.09,408.40 L349.27,408.65 L350.45,408.90 L351.64,409.15 L352.83,409.40 L354.02,409.64 L355.21,409.89 L356.41,410.13 L357.61,410.36 L358.82,410.60 L360.02,410.84 L361.23,411.07 L362.45,411.30 L363.66,411.53 L364.88,411.76 L366.10,411.98 L367.33,412.20 L368.55,412.43 L369.78,412.65 L371.02,412.86 L372.25,413.08 L373.49,413.29 L374.73,413.51 L375.98,413.72 L377.22,413.93 L378.48,414.13 L379.73,414.34 L380.99,414.54 L382.24,414.74 L383.51,414.94 L384.77,415.14 L386.04,415.34 L387.31,415.53 L388.58,415.73 L389.86,415.92 L391.14,416.11 L392.42,416.29 L393.71,416.48 L395.00,416.67 L396.29,416.85 L397.58,417.03 L398.88,417.21 L400.18,417.39 L401.48,417.56 L402.79,417.74 L404.10,417.91 L405.41,418.08 L406.72,418.25 L408.04,418.42 L409.36,418.58 L410.68,418.75 L412.01,418.91 L413.34,419.07 L414.67,419.23 L416.01,419.39 L417.34,419.54 L418.69,419.70 L420.03,419.85 L421.38,420.00 L422.73,420.15 L424.08,420.30 L425.43,420.45 L426.79,420.60 L428.15,420.74 L429.52,420.89 L430.88,421.03 L432.25,421.17 L433.63,421.31 L435.00,421.45 L436.38,421.58 L437.76,421.72 L439.15,421.85 L440.53,421.98 L441.92,422.12 L443.32,422.25 L444.71,422.38 L446.11,422.50 L447.51,422.63 L448.92,422.76 L450.33,422.88 L451.74,423.00 L453.15,423.13 L454.57,423.25 L455.99,423.37 L457.41,423.49 L458.83,423.60 L460.26,423.72 L461.69,423.84 L463.13,423.95 L464.56,424.07 L466.00,424.18 L467.45,424.29 L468.89,424.40 L470.34,424.51 L471.79,424.62 L473.25,424.73 L474.70,424.83 L476.16,424.94 L477.63,425.05 L479.09,425.15 L480.56,425.25 L482.03,425.36 L483.51,425.46 L484.99,425.56 L486.47,425.66 L487.95,425.76 L489.44,425.86 L490.93,425.96 L492.42,426.06 L493.91,426.15 L495.41,426.25 L496.91,426.35 L498.42,426.44 L499.92,426.53 L501.43,426.63 L502.95,426.72 L504.46,426.81 L505.98,426.91 L507.50,427.00 L509.02,427.09 L510.55,427.18 L512.08,427.27 L513.61,427.36 L515.15,427.45 L516.69,427.54 L518.23,427.63 L519.78,427.71 L521.32,427.80 L522.87,427.89 L524.43,427.97 L525.98,428.06 L527.54,428.15 L529.10,428.23 L530.67,428.32 L532.24,428.40 L533.81,428.49 L535.38,428.57 L536.96,428.66 L538.54,428.74 L540.12,428.83 L541.71,428.91 L543.29,428.99 L544.89,429.07 L546.48,429.15 L548.08,429.24 L549.68,429.32 L551.28,429.39 L552.88,429.47 L554.49,429.55 L556.10,429.63 L557.72,429.71 L559.34,429.78 L560.96,429.86 L562.58,429.93 L564.21,430.01 L565.84,430.08 L567.47,430.16 L569.10,430.23 L570.74,430.30 L572.38,430.38 L574.02,430.45 L575.67,430.52 L577.32,430.59 L578.97,430.66 L580.63,430.73 L582.29,430.80 L583.95,430.87 L585.61,430.94 L587.28,431.00 L588.95,431.07 L590.62,431.14 L592.30,431.21 L593.97,431.27 L595.66,431.34 L597.34,431.40 L599.03,431.47 L600.72,431.53 L602.41,431.60 L604.11,431.66 L605.81,431.72 L607.51,431.79 L609.21,431.85 L610.92,431.91 L612.63,431.97 L614.34,432.03 L616.06,432.09 L617.78,432.15 L619.50,432.21 L621.23,432.27 L622.95,432.33 L624.69,432.39 L626.42,432.45 L628.16,432.51 L629.90,432.57 L631.64,432.62 L633.38,432.68 L635.13,432.74 L636.88,432.79 L638.64,432.85 L640.40,432.91 L642.16,432.96 L643.92,433.02 L645.68,433.07 L647.45,433.12 L649.22,433.18 L651.00,433.23 L652.78,433.29 L654.56,433.34 L656.34,433.39 L658.13,433.45 L659.92,433.50 L661.71,433.55 L663.50,433.60 L665.30,433.65 L667.10,433.70 L668.91,433.76 L670.71,433.81 L672.52,433.86 L674.33,433.91 L676.15,433.96 L677.97,434.01 L679.79,434.06 L681.61,434.11 L683.44,434.15 L685.27,434.20 L687.10,434.25 L688.94,434.30 L690.78,434.35 L692.62,434.39 L694.46,434.44 L696.31,434.49 L698.16,434.53 L700.01,434.58 L701.87,434.62 L703.73,434.67 L705.59,434.71 L707.46,434.76 L709.32,434.80 L711.19,434.85 L713.07,434.89 L714.94,434.93 L716.82,434.97 L718.71,435.02 L720.59,435.06 L722.48,435.10 L724.37,435.14 L726.26,435.19 L728.16,435.23 L730.06,435.27 L731.96,435.31 L733.87,435.35 L735.78,435.39 L737.69,435.43 L739.60,435.47 L741.52,435.51 L743.44,435.55 L745.36,435.59 L747.29,435.63 L749.22,435.67 L751.15,435.70 L753.09,435.74 L755.02,435.78 L756.96,435.82 L758.91,435.86 L760.85,435.89 L762.80,435.93 L764.76,435.97 L766.71,436.01 L768.67,436.04 L770.63,436.08 L772.59,436.12 L774.56,436.15 L776.53,436.19 L778.50,436.23 L780.48,436.26 L782.46,436.30 L784.44,436.33 L786.42,436.37 L788.41,436.40 L790.40,436.44 L792.39,436.47 L794.39,436.51 L796.39,436.54 L798.39,436.58 L800.39,436.61 L802.40,436.65 L804.41,436.68 L806.42,436.72 L808.44,436.75 L810.46,436.79 L812.48,436.82 L814.51,436.86 L816.54,436.89 L818.57,436.92 L820.60,436.96" stroke="#ed1c24" stroke-width="4.0" stroke-linecap="butt"/>
<path d="M109.30,19.14 L109.30,19.15 L109.31,19.19 L109.31,19.26 L109.32,19.35 L109.34,19.47 L109.35,19.62 L109.37,19.79 L109.39,19.99 L109.42,20.22 L109.45,20.47 L109.48,20.75 L109.51,21.05 L109.55,21.38 L109.59,21.74 L109.63,22.12 L109.67,22.53 L109.72,22.97 L109.77,23.42 L109.83,23.91 L109.88,24.42 L109.94,24.96 L110.00,25.52 L110.07,26.10 L110.14,26.71 L110.21,27.34 L110.28,28.00 L110.36,28.68 L110.44,29.39 L110.52,30.12 L110.61,30.87 L110.70,31.64 L110.79,32.44 L110.89,33.26 L110.98,34.10 L111.08,34.97 L111.19,35.86 L111.29,36.76 L111.40,37.69 L111.51,38.64 L111.63,39.62 L111.75,40.61 L111.87,41.62 L111.99,42.65 L112.12,43.70 L112.25,44.77 L112.38,45.86 L112.52,46.97 L112.65,48.10 L112.80,49.24 L112.94,50.41 L113.09,51.59 L113.24,52.79 L113.39,54.00 L113.55,55.23 L113.70,56.48 L113.87,57.74 L114.03,59.02 L114.20,60.32 L114.37,61.63 L114.54,62.95 L114.72,64.29 L114.90,65.64 L115.08,67.01 L115.26,68.39 L115.45,69.78 L115.64,71.18 L115.84,72.60 L116.03,74.03 L116.23,75.47 L116.43,76.92 L116.64,78.39 L116.85,79.86 L117.06,81.35 L117.27,82.84 L117.49,84.35 L117.71,85.86 L117.93,87.38 L118.16,88.91 L118.39,90.46 L118.62,92.00 L118.85,93.56 L119.09,95.12 L119.33,96.70 L119.57,98.27 L119.82,99.86 L120.07,101.45 L120.32,103.05 L120.57,104.65 L120.83,106.26 L121.09,107.87 L121.36,109.49 L121.62,111.12 L121.89,112.74 L122.16,114.38 L122.44,116.01 L122.72,117.65 L123.00,119.29 L123.28,120.94 L123.57,122.59 L123.86,124.24 L124.15,125.89 L124.45,127.55 L124.74,129.20 L125.05,130.86 L125.35,132.52 L125.66,134.18 L125.97,135.85 L126.28,137.51 L126.60,139.17 L126.92,140.83 L127.24,142.50 L127.56,144.16 L127.89,145.82 L128.22,147.48 L128.55,149.14 L128.89,150.80 L129.23,152.46 L129.57,154.12 L129.92,155.77 L130.26,157.43 L130.61,159.08 L130.97,160.73 L131.32,162.37 L131.68,164.02 L132.05,165.66 L132.41,167.30 L132.78,168.94 L133.15,170.57 L133.53,172.20 L133.90,173.82 L134.28,175.45 L134.67,177.06 L135.05,178.68 L135.44,180.29 L135.83,181.90 L136.23,183.50 L136.62,185.10 L137.02,186.69 L137.43,188.28 L137.83,189.86 L138.24,191.44 L138.65,193.02 L139.07,194.58 L139.49,196.15 L139.91,197.71 L140.33,199.26 L140.76,200.81 L141.19,202.35 L141.62,203.89 L142.06,205.42 L142.49,206.94 L142.93,208.46 L143.38,209.98 L143.83,211.48 L144.28,212.99 L144.73,214.48 L145.18,215.97 L145.64,217.45 L146.10,218.93 L146.57,220.40 L147.04,221.86 L147.51,223.32 L147.98,224.77 L148.45,226.21 L148.93,227.65 L149.42,229.08 L149.90,230.50 L150.39,231.92 L150.88,233.33 L151.37,234.73 L151.87,236.13 L152.37,237.52 L152.87,238.90 L153.38,240.27 L153.88,241.64 L154.39,243.00 L154.91,244.36 L155.43,245.70 L155.94,247.04 L156.47,248.38 L156.99,249.70 L157.52,251.02 L158.05,252.33 L158.59,253.64 L159.12,254.93 L159.66,256.22 L160.21,257.50 L160.75,258.78 L161.30,260.05 L161.85,261.31 L162.41,262.56 L162.97,263.81 L163.53,265.05 L164.09,266.28 L164.66,267.50 L165.23,268.72 L165.80,269.93 L166.37,271.13 L166.95,272.33 L167.53,273.52 L168.12,274.70 L168.70,275.87 L169.29,277.04 L169.88,278.20 L170.48,279.35 L171.08,280.49 L171.68,281.63 L172.28,282.76 L172.89,283.89 L173.50,285.00 L174.11,286.11 L174.73,287.21 L175.35,288.31 L175.97,289.40 L176.59,290.48 L177.22,291.55 L177.85,292.62 L178.48,293.68 L179.12,294.74 L179.76,295.78 L180.40,296.82 L181.05,297.86 L181.69,298.88 L182.35,299.90 L183.00,300.91 L183.66,301.92 L184.32,302.92 L184.98,303.91 L185.64,304.90 L186.31,305.88 L186.98,306.85 L187.66,307.81 L188.33,308.77 L189.01,309.73 L189.70,310.67 L190.38,311.61 L191.07,312.55 L191.76,313.47 L192.46,314.39 L193.15,315.31 L193.85,316.22 L194.56,317.12 L195.26,318.01 L195.97,318.90 L196.68,319.78 L197.40,320.66 L198.12,321.53 L198.84,322.40 L199.56,323.25 L200.29,324.11 L201.02,324.95 L201.75,325.79 L202.48,326.63 L203.22,327.46 L203.96,328.28 L204.71,329.10 L205.45,329.91 L206.20,330.71 L206.96,331.51 L207.71,332.30 L208.47,333.09 L209.23,333.88 L210.00,334.65 L210.76,335.42 L211.53,336.19 L212.31,336.95 L213.08,337.70 L213.86,338.45 L214.64,339.20 L215.43,339.94 L216.21,340.67 L217.01,341.40 L217.80,342.12 L218.59,342.84 L219.39,343.55 L220.20,344.25 L221.00,344.96 L221.81,345.65 L222.62,346.34 L223.43,347.03 L224.25,347.71 L225.07,348.39 L225.89,349.06 L226.72,349.73 L227.55,350.39 L228.38,351.04 L229.21,351.70 L230.05,352.34 L230.89,352.98 L231.73,353.62 L232.58,354.26 L233.43,354.88 L234.28,355.51 L235.13,356.13 L235.99,356.74 L236.85,357.35 L237.71,357.96 L238.58,358.56 L239.45,359.15 L240.32,359.74 L241.20,360.33 L242.07,360.92 L242.95,361.49 L243.84,362.07 L244.72,362.64 L245.61,363.21 L246.51,363.77 L247.40,364.32 L248.30,364.88 L249.20,365.43 L250.11,365.97 L251.01,366.51 L251.92,367.05 L252.83,367.58 L253.75,368.11 L254.67,368.64 L255.59,369.16 L256.52,369.68 L257.44,370.19 L258.37,370.70 L259.31,371.21 L260.24,371.71 L261.18,372.21 L262.12,372.70 L263.07,373.19 L264.02,373.68 L264.97,374.16 L265.92,374.64 L266.88,375.12 L267.84,375.59 L268.80,376.06 L269.76,376.53 L270.73,376.99 L271.70,377.45 L272.68,377.91 L273.65,378.36 L274.63,378.81 L275.62,379.25 L276.60,379.69 L277.59,380.13 L278.58,380.57 L279.57,381.00 L280.57,381.43 L281.57,381.86 L282.58,382.28 L283.58,382.70 L284.59,383.11 L285.60,383.53 L286.62,383.94 L287.63,384.34 L288.65,384.75 L289.68,385.15 L290.70,385.55 L291.73,385.94 L292.77,386.33 L293.80,386.72 L294.84,387.11 L295.88,387.49 L296.92,387.87 L297.97,388.25 L299.02,388.62 L300.07,389.00 L301.13,389.37 L302.19,389.73 L303.25,390.10 L304.31,390.46 L305.38,390.81 L306.45,391.17 L307.52,391.52 L308.60,391.87 L309.68,392.22 L310.76,392.57 L311.84,392.91 L312.93,393.25 L314.02,393.59 L315.11,393.92 L316.21,394.25 L317.31,394.58 L318.41,394.91 L319.52,395.24 L320.62,395.56 L321.73,395.88 L322.85,396.20 L323.96,396.51 L325.08,396.82 L326.21,397.14 L327.33,397.44 L328.46,397.75 L329.59,398.05 L330.73,398.36 L331.86,398.65 L333.00,398.95 L334.15,399.25 L335.29,399.54 L336.44,399.83 L337.59,400.12 L338.75,400.41 L339.90,400.69 L341.06,400.97 L342.23,401.25 L343.39,401.53 L344.56,401.81 L345.73,402.08 L346.91,402.35 L348.09,402.62 L349.27,402.89 L350.45,403.15 L351.64,403.42 L352.83,403.68 L354.02,403.94 L355.21,404.20 L356.41,404.45 L357.61,404.71 L358.82,404.96 L360.02,405.21 L361.23,405.46 L362.45,405.71 L363.66,405.95 L364.88,406.20 L366.10,406.44 L367.33,406.68 L368.55,406.92 L369.78,407.15 L371.02,407.39 L372.25,407.62 L373.49,407.85 L374.73,408.08 L375.98,408.31 L377.22,408.53 L378.48,408.76 L379.73,408.98 L380.99,409.20 L382.24,409.42 L383.51,409.64 L384.77,409.85 L386.04,410.07 L387.31,410.28 L388.58,410.49 L389.86,410.70 L391.14,410.91 L392.42,411.12 L393.71,411.33 L395.00,411.53 L396.29,411.73 L397.58,411.93 L398.88,412.13 L400.18,412.33 L401.48,412.53 L402.79,412.72 L404.10,412.92 L405.41,413.11 L406.72,413.30 L408.04,413.49 L409.36,413.68 L410.68,413.87 L412.01,414.05 L413.34,414.24 L414.67,414.42 L416.01,414.60 L417.34,414.78 L418.69,414.96 L420.03,415.14 L421.38,415.31 L422.73,415.49 L424.08,415.66 L425.43,415.84 L426.79,416.01 L428.15,416.18 L429.52,416.35 L430.88,416.51 L432.25,416.68 L433.63,416.85 L435.00,417.01 L436.38,417.17 L437.76,417.33 L439.15,417.50 L440.53,417.66 L441.92,417.81 L443.32,417.97 L444.71,418.13 L446.11,418.28 L447.51,418.44 L448.92,418.59 L450.33,418.74 L451.74,418.89 L453.15,419.04 L454.57,419.19 L455.99,419.34 L457.41,419.48 L458.83,419.63 L460.26,419.77 L461.69,419.92 L463.13,420.06 L464.56,420.20 L466.00,420.34 L467.45,420.48 L468.89,420.62 L470.34,420.76 L471.79,420.89 L473.25,421.03 L474.70,421.16 L476.16,421.30 L477.63,421.43 L479.09,421.56 L480.56,421.69 L482.03,421.82 L483.51,421.95 L484.99,422.08 L486.47,422.21 L487.95,422.33 L489.44,422.46 L490.93,422.58 L492.42,422.71 L493.91,422.83 L495.41,422.95 L496.91,423.07 L498.42,423.19 L499.92,423.31 L501.43,423.43 L502.95,423.55 L504.46,423.66 L505.98,423.78 L507.50,423.89 L509.02,424.01 L510.55,424.12 L512.08,424.24 L513.61,424.35 L515.15,424.46 L516.69,424.57 L518.23,424.68 L519.78,424.79 L521.32,424.90 L522.87,425.00 L524.43,425.11 L525.98,425.22 L527.54,425.32 L529.10,425.43 L530.67,425.53 L532.24,425.63 L533.81,425.74 L535.38,425.84 L536.96,425.94 L538.54,426.04 L540.12,426.14 L541.71,426.24 L543.29,426.34 L544.89,426.44 L546.48,426.53 L548.08,426.63 L549.68,426.72 L551.28,426.82 L552.88,426.91 L554.49,427.01 L556.10,427.10 L557.72,427.19 L559.34,427.28 L560.96,427.38 L562.58,427.47 L564.21,427.56 L565.84,427.65 L567.47,427.73 L569.10,427.82 L570.74,427.91 L572.38,428.00 L574.02,428.08 L575.67,428.17 L577.32,428.25 L578.97,428.34 L580.63,428.42 L582.29,428.51 L583.95,428.59 L585.61,428.67 L587.28,428.75 L588.95,428.84 L590.62,428.92 L592.30,429.00 L593.97,429.08 L595.66,429.16 L597.34,429.23 L599.03,429.31 L600.72,429.39 L602.41,429.47 L604.11,429.54 L605.81,429.62 L607.51,429.69 L609.21,429.77 L610.92,429.84 L612.63,429.92 L614.34,429.99 L616.06,430.06 L617.78,430.14 L619.50,430.21 L621.23,430.28 L622.95,430.35 L624.69,430.42 L626.42,430.49 L628.16,430.56 L629.90,430.63 L631.64,430.70 L633.38,430.77 L635.13,430.84 L636.88,430.90 L638.64,430.97 L640.40,431.04 L642.16,431.10 L643.92,431.17 L645.68,431.23 L647.45,431.30 L649.22,431.36 L651.00,431.43 L652.78,431.49 L654.56,431.55 L656.34,431.62 L658.13,431.68 L659.92,431.74 L661.71,431.80 L663.50,431.86 L665.30,431.92 L667.10,431.98 L668.91,432.04 L670.71,432.10 L672.52,432.16 L674.33,432.22 L676.15,432.28 L677.97,432.34 L679.79,432.40 L681.61,432.45 L683.44,432.51 L685.27,432.57 L687.10,432.62 L688.94,432.68 L690.78,432.73 L692.62,432.79 L694.46,432.84 L696.31,432.90 L698.16,432.95 L700.01,433.01 L701.87,433.06 L703.73,433.11 L705.59,433.16 L707.46,433.22 L709.32,433.27 L711.19,433.32 L713.07,433.37 L714.94,433.42 L716.82,433.47 L718.71,433.52 L720.59,433.57 L722.48,433.62 L724.37,433.67 L726.26,433.72 L728.16,433.77 L730.06,433.82 L731.96,433.87 L733.87,433.91 L735.78,433.96 L737.69,434.01 L739.60,434.06 L741.52,434.10 L743.44,434.15 L745.36,434.19 L747.29,434.24 L749.22,434.29 L751.15,434.33 L753.09,434.38 L755.02,434.42 L756.96,434.46 L758.91,434.51 L760.85,434.55 L762.80,434.60 L764.76,434.64 L766.71,434.68 L768.67,434.72 L770.63,434.77 L772.59,434.81 L774.56,434.85 L776.53,434.89 L778.50,434.93 L780.48,434.97 L782.46,435.02 L784.44,435.06 L786.42,435.10 L788.41,435.14 L790.40,435.18 L792.39,435.22 L794.39,435.26 L796.39,435.29 L798.39,435.33 L800.39,435.37 L802.40,435.41 L804.41,435.45 L806.42,435.49 L808.44,435.52 L810.46,435.56 L812.48,435.60 L814.51,435.64 L816.54,435.67 L818.57,435.71 L820.60,435.74" stroke="#231f20" stroke-width="3.9" stroke-dasharray="0 14.19" stroke-dashoffset="-0.1"/>
</g>
<g font-size="25px" stroke="#fff" stroke-width="0.2">
<text x="109.30" y="480.4" text-anchor="middle">0</text>
<text x="251.56" y="480.4" text-anchor="middle">1</text>
<text x="393.82" y="480.4" text-anchor="middle">2</text>
<text x="536.08" y="480.4" text-anchor="middle">3</text>
<text x="678.34" y="480.4" text-anchor="middle">4</text>
<text x="820.60" y="480.4" text-anchor="middle">5</text>
<text x="87.8" y="448.70" text-anchor="end">0</text>
<text x="87.8" y="372.95" text-anchor="end">0.5</text>
<text x="87.8" y="297.20" text-anchor="end">1.0</text>
<text x="87.8" y="221.45" text-anchor="end">1.5</text>
<text x="87.8" y="145.70" text-anchor="end">2.0</text>
<text x="87.8" y="69.95" text-anchor="end">2.5</text>
</g>
<g>
<text transform="matrix(0.08281 0 0 0.08165 390.054 518.415)" font-size="400px" class="it" stroke="#fff" stroke-width="3.0">Q</text>
<text transform="matrix(0.05669 0 0 0.05076 413.995 507.076)" font-size="400px" stroke="#fff" stroke-width="3.0">2</text>
<text transform="matrix(0.08000 0 0 0.08624 446.780 518.572)" font-size="400px" stroke="#fff" stroke-width="7">(</text>
<text transform="matrix(0.07315 0 0 0.08346 457.320 518.491)" font-size="400px" stroke="#fff" stroke-width="3.0">G</text>
<text transform="matrix(0.07655 0 0 0.07619 477.760 518.510)" font-size="400px" stroke="#fff" stroke-width="3.0">e</text>
<text transform="matrix(0.08664 0 0 0.08075 490.323 518.237)" font-size="400px" stroke="#fff" stroke-width="3.0">V</text>
<text transform="matrix(0.05414 0 0 0.04618 515.744 507.469)" font-size="400px" stroke="#fff" stroke-width="3.0">2</text>
<text transform="matrix(0.07812 0 0 0.08624 527.211 518.572)" font-size="400px" stroke="#fff" stroke-width="7">)</text>
</g>
<g>
<text transform="matrix(0 -0.10039 0.10075 0 32.448 291.959)" font-size="400px" class="it" stroke="#fff" stroke-width="3.0">G</text>
<text transform="matrix(0 -0.06714 0.06293 0 37.394 261.665)" font-size="400px" class="it" stroke="#fff" stroke-width="3.0">M</text>
<text transform="matrix(0 -0.05577 0.05778 0 37.476 234.401)" font-size="400px" class="it" stroke="#fff" stroke-width="3.0">p</text>
<text transform="matrix(0 -0.08495 0.10282 0 32.323 220.311)" font-size="400px" stroke="#fff" stroke-width="9">(</text>
<text transform="matrix(0 -0.09219 0.10000 0 32.450 209.066)" font-size="400px" class="it" stroke="#fff" stroke-width="3.0">Q</text>
<text transform="matrix(0 -0.06561 0.06603 0 18.899 181.279)" font-size="400px" stroke="#fff" stroke-width="3.0">2</text>
<text transform="matrix(0 -0.09043 0.10452 0 32.486 167.382)" font-size="400px" stroke="#fff" stroke-width="9">)</text>
</g>
<g fill="none" stroke-linecap="round">
<path d="M546.3,53.8H653.1" stroke="#00a651" stroke-width="4.0" stroke-dasharray="0 14 14.7 14"/>
<path d="M546.3,110.4H653.1" stroke="#2e3192" stroke-width="4.0" stroke-dasharray="14.7 13.8"/>
<path d="M546.3,166.8H653.1" stroke="#ed1c24" stroke-width="4.0" stroke-linecap="butt"/>
<path d="M546.3,223.6H653.1" stroke="#231f20" stroke-width="3.9" stroke-dasharray="0 14.18"/>
</g>
<text transform="matrix(0.07961 0 0 0.08346 666.829 62.391)" font-size="400px" class="it" stroke="#fff" stroke-width="3.0">G</text>
<text transform="matrix(0.05845 0 0 0.05417 690.860 46.477)" font-size="400px" stroke="#fff" stroke-width="3.0">(bare)</text>
<text transform="matrix(0.05439 0 0 0.05212 692.190 69.578)" font-size="400px" class="it" stroke="#fff" stroke-width="3.0">M</text>
<text transform="matrix(0.04904 0 0 0.04926 713.354 69.587)" font-size="400px" class="it" stroke="#fff" stroke-width="3.0">p</text>
<text transform="matrix(0.07961 0 0 0.08346 666.829 118.791)" font-size="400px" class="it" stroke="#fff" stroke-width="3.0">G</text>
<text transform="matrix(0.05690 0 0 0.05417 690.890 102.877)" font-size="400px" stroke="#fff" stroke-width="3.0">(bse)</text>
<text transform="matrix(0.05439 0 0 0.05212 692.190 125.978)" font-size="400px" class="it" stroke="#fff" stroke-width="3.0">M</text>
<text transform="matrix(0.04904 0 0 0.04926 713.354 125.987)" font-size="400px" class="it" stroke="#fff" stroke-width="3.0">p</text>
<text transform="matrix(0.08157 0 0 0.08459 666.783 175.489)" font-size="400px" class="it" stroke="#fff" stroke-width="3.0">G</text>
<text transform="matrix(0.05609 0 0 0.05290 691.896 179.179)" font-size="400px" class="it" stroke="#fff" stroke-width="3.0">M</text>
<text transform="matrix(0.05144 0 0 0.04963 713.406 179.156)" font-size="400px" class="it" stroke="#fff" stroke-width="3.0">p</text>
<text transform="matrix(0.07748 0 0 0.07389 666.844 231.130)" font-size="400px" stroke="#fff" stroke-width="3.0">empirical</text>
</svg>
</body></html>
